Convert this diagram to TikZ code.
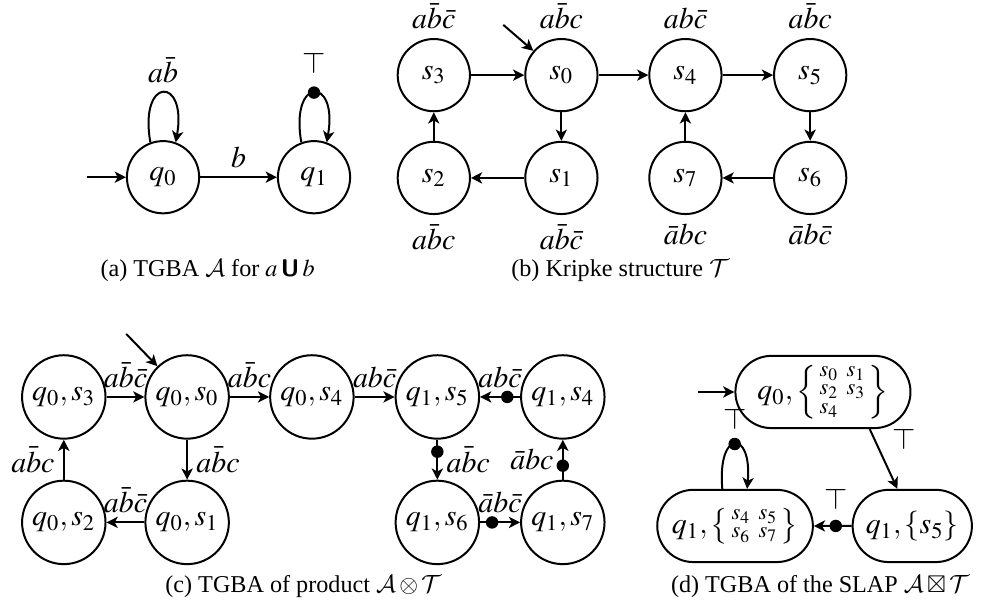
\documentclass[tikz,border=0pt]{standalone}
\usepackage{amsmath}
\usepackage{mathptmx}
\usepackage{amssymb}
\DeclareMathAlphabet{\mathcal}{OMS}{cmsy}{m}{n}
\usepackage[no-math]{fontspec}
\setmainfont{Liberation Serif}
\usetikzlibrary{arrows.meta,shapes.misc}

\begin{document}
\begin{tikzpicture}[thick, >={Stealth[length=4.5pt,width=4.5pt,inset=1.2pt]},
    state/.style = {circle, draw, minimum size=29pt, inner sep=0pt, font=\large},
    pstate/.style = {circle, draw, minimum size=33.5pt, inner sep=0pt, font=\large},
    slap/.style = {rounded rectangle, draw, minimum height=29pt, inner xsep=4pt, font=\large},
    accmark/.style = {circle, fill, inner sep=0pt, minimum size=5pt},
    subcap/.style = {font=\fontsize{9.7pt}{11pt}\selectfont},
    every label/.style = {font=\large}]
    \useasboundingbox (0,0) rectangle (13.84,-8.51);

    % (a) the automaton
    \node[state] (q0) at (2.30,-2.50) {$q_0$};
    \node[state] (q1) at (4.43,-2.50) {$q_1$};
    \coordinate (q0in) at (1.23,-2.50);
    \draw[->] (q0in) -- (q0);
    \draw[->] (q0) -- node[above, font=\large] {$b$} (q1);
    \draw[->] (q0.110) to[out=100, in=80, looseness=6.8] node[above, font=\large] {$a\bar b$} (q0.70);
    \draw[->] (q1.110) to[out=100, in=80, looseness=6.8] node[accmark, label={[label distance=1pt]above:$\top$}] {} (q1.70);
    \node[subcap] (capa) at (2.93,-3.81) {(a) TGBA $\mathcal{A}$ for $a\mathbin{\textsf{\textbf{U}}}b$};

    % (b) the Kripke structure
    \node[state, label={above:$a\bar b\bar c$}] (s3) at (6.12,-1.06) {$s_3$};
    \node[state, label={above:$a\bar bc$}] (s0) at (7.92,-1.06) {$s_0$};
    \node[state, label={above:$ab\bar c$}] (s4) at (9.67,-1.06) {$s_4$};
    \node[state, label={above:$a\bar bc$}] (s5) at (11.43,-1.06) {$s_5$};
    \node[state, label={below:$a\bar bc$}] (s2) at (6.12,-2.51) {$s_2$};
    \node[state, label={below:$a\bar b\bar c$}] (s1) at (7.92,-2.51) {$s_1$};
    \node[state, label={below:$\bar abc$}] (s7) at (9.67,-2.51) {$s_7$};
    \node[state, label={below:$\bar ab\bar c$}] (s6) at (11.43,-2.51) {$s_6$};
    \coordinate (s0in) at (7.10,-0.35);
    \draw[->] (s0in) -- (s0);
    \draw[->] (s3) -- (s0);
    \draw[->] (s0) -- (s4);
    \draw[->] (s4) -- (s5);
    \draw[->] (s5) -- (s6);
    \draw[->] (s6) -- (s7);
    \draw[->] (s7) -- (s4);
    \draw[->] (s0) -- (s1);
    \draw[->] (s1) -- (s2);
    \draw[->] (s2) -- (s3);
    \node[subcap] (capb) at (8.75,-3.81) {(b) Kripke structure $\mathcal{T}$};

    % (c) the product
    \node[pstate] (p03) at (0.90,-5.60) {$q_0,s_3$};
    \node[pstate] (p00) at (2.64,-5.60) {$q_0,s_0$};
    \node[pstate] (p04) at (4.40,-5.60) {$q_0,s_4$};
    \node[pstate] (p15) at (6.17,-5.60) {$q_1,s_5$};
    \node[pstate] (p14) at (7.94,-5.60) {$q_1,s_4$};
    \node[pstate] (p02) at (0.90,-7.37) {$q_0,s_2$};
    \node[pstate] (p01) at (2.64,-7.37) {$q_0,s_1$};
    \node[pstate] (p16) at (6.17,-7.37) {$q_1,s_6$};
    \node[pstate] (p17) at (7.94,-7.37) {$q_1,s_7$};
    \coordinate (p00in) at (1.78,-4.71);
    \draw[->] (p00in) -- (p00);
    \draw[->] (p03) -- node[above, font=\large] {$a\bar b\bar c$} (p00);
    \draw[->] (p00) -- node[above, font=\large] {$a\bar bc$} (p04);
    \draw[->] (p04) -- node[above, font=\large] {$ab\bar c$} (p15);
    \draw[->] (p14) -- node[accmark, pos=0.32] {} node[above, font=\large] {$ab\bar c$} (p15);
    \draw[->] (p00) -- node[right, font=\large] {$a\bar bc$} (p01);
    \draw[->] (p01) -- node[above, font=\large] {$a\bar b\bar c$} (p02);
    \draw[->] (p02) -- node[left, font=\large] {$a\bar bc$} (p03);
    \draw[->] (p15) -- node[accmark, pos=0.3] {} node[right, font=\large] {$a\bar bc$} (p16);
    \draw[->] (p17) -- node[accmark, pos=0.35] {} node[left, font=\large] {$\bar abc$} (p14);
    \draw[->] (p16) -- node[accmark, pos=0.3] {} node[above, font=\large] {$\bar ab\bar c$} (p17);
    \node[subcap] (capc) at (4.28,-8.28) {(c) TGBA of product $\mathcal{A}\otimes\mathcal{T}$};

    % (d) the SLAP
    \node[slap] (d0) at (11.61,-5.53) {$q_0,\left\{\begin{smallmatrix}s_0 & s_1\\ s_2 & s_3\\ s_4\end{smallmatrix}\right\}$};
    \node[slap] (d1) at (10.37,-7.42) {$q_1,\left\{\begin{smallmatrix}s_4 & s_5\\ s_6 & s_7\end{smallmatrix}\right\}$};
    \node[slap] (d2) at (12.87,-7.42) {$q_1,\{s_5\}$};
    \coordinate (d0in) at (9.85,-5.53);
    \draw[->] (d0in) -- (d0);
    \draw[->] ([xshift=0.66cm]d0.south) -- node[above right, font=\large] {$\top$} ([xshift=-0.21cm]d2.north);
    \draw[->] (d2) -- node[accmark, pos=0.42, label={above:$\top$}] {} (d1);
    \draw[->] ([xshift=-0.18cm]d1.north) to[out=95, in=85, looseness=6.2] node[accmark, label={[label distance=-1pt]above:$\top$}] {} ([xshift=0.17cm]d1.north);
    \node[subcap] (capd) at (11.57,-8.28) {(d) TGBA of the SLAP $\mathcal{A}\boxtimes\mathcal{T}$};
\end{tikzpicture}
\end{document}
